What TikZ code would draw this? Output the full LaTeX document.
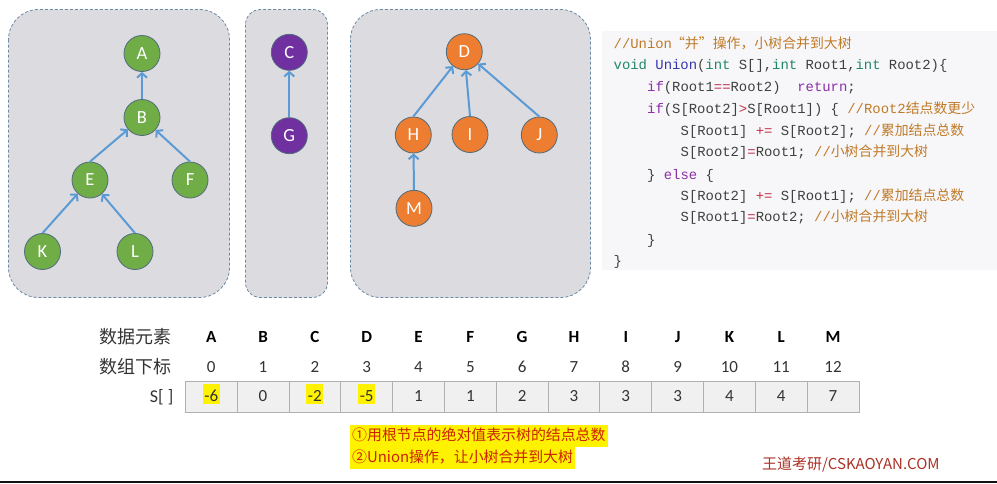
\documentclass[tikz,border=0pt]{standalone}
\usepackage{fontspec}
\setmainfont{Carlito}
\newfontfamily\cjk{Noto Sans CJK SC}
\newfontfamily\codefont{Liberation Mono}
\usetikzlibrary{arrows.meta}
\definecolor{ngreen}{HTML}{70AD47}
\definecolor{npurple}{HTML}{7030A0}
\definecolor{norange}{HTML}{ED7D31}
\definecolor{nborder}{HTML}{4F6B7C}
\definecolor{arrowblue}{HTML}{5B9BD5}
\definecolor{boxfill}{HTML}{DCDBDF}
\definecolor{boxborder}{HTML}{6A8AA6}
\definecolor{codebg}{HTML}{F7F7F9}
\definecolor{codetxt}{HTML}{404040}
\definecolor{ccomment}{HTML}{C07A28}
\definecolor{ctype}{HTML}{22876A}
\definecolor{cfunc}{HTML}{3535B0}
\definecolor{ckey}{HTML}{8A2FA6}
\definecolor{cop}{HTML}{C0304A}
\definecolor{cellfill}{HTML}{F0F0F0}
\definecolor{cellline}{HTML}{B0B0B0}
\definecolor{notered}{HTML}{CC2200}
\definecolor{wmred}{HTML}{A93226}
\definecolor{labelgray}{HTML}{333333}
\newcommand\cCm[1]{\textcolor{ccomment}{#1}}
\newcommand\cTy[1]{\textcolor{ctype}{#1}}
\newcommand\cFn[1]{\textcolor{cfunc}{#1}}
\newcommand\cKw[1]{\textcolor{ckey}{#1}}
\newcommand\cOp[1]{\textcolor{cop}{#1}}
\tikzset{
  treenode/.style={circle, minimum size=36pt, inner sep=0pt, draw=nborder, line width=0.8pt,
    text=white, font=\fontsize{18.5}{20}\selectfont},
  gnode/.style={treenode, fill=ngreen},
  pnode/.style={treenode, fill=npurple},
  onode/.style={treenode, fill=norange},
  edgearrow/.style={draw=arrowblue, line width=2pt, -{Straight Barb[length=4.5pt,width=10pt]}},
  groupbox/.style={draw=boxborder, dash pattern=on 3pt off 2pt, fill=boxfill, line width=0.8pt},
  codeline/.style={anchor=base west, inner sep=0pt, text=codetxt,
    font=\codefont\fontsize{13.9}{16}\selectfont},
  cellbox/.style={draw=cellline, fill=cellfill, line width=0.8pt, minimum width=51.82pt,
    minimum height=30.6pt, inner sep=0pt},
  headtxt/.style={anchor=base, inner sep=0pt, font=\bfseries\fontsize{17}{20}\selectfont},
  idxtxt/.style={anchor=base, inner sep=0pt, text=labelgray, font=\fontsize{17}{20}\selectfont},
  valtxt/.style={anchor=base, inner sep=0pt, text=labelgray, font=\fontsize{17}{20}\selectfont},
  valhl/.style={valtxt, fill=yellow, inner xsep=1.5pt, text height=17pt, text depth=3pt},
  rowlabel/.style={anchor=east, inner sep=0pt, text=labelgray, font=\cjk\fontsize{18}{20}\selectfont},
  noteline/.style={anchor=west, fill=yellow, inner xsep=2pt, inner ysep=0pt, text height=16pt,
    text depth=6pt, text=notered, font=\cjk\fontsize{14.9}{16}\selectfont},
}
\begin{document}
\begin{tikzpicture}[x=1pt,y=-1pt]
\useasboundingbox (0,0) rectangle (997,483);
% group boxes
\path[groupbox, rounded corners=30pt] (8.5,9.5) rectangle (229.5,297.5);
\path[groupbox, rounded corners=15pt] (245.5,9.5) rectangle (327.5,297.5);
\path[groupbox, rounded corners=30pt] (350.5,9.5) rectangle (590.5,297.5);
% tree 1
\node[gnode] (A) at (142,53.5) {A};
\node[gnode] (B) at (142,117.5) {B};
\node[gnode] (E) at (90,180) {E};
\node[gnode] (F) at (190,180) {F};
\node[gnode] (K) at (42.5,251.5) {K};
\node[gnode] (L) at (135,251.5) {L};
% tree 2
\node[pnode] (C) at (289.3,52.3) {C};
\node[pnode] (G) at (289.3,135.7) {G};
% tree 3
\node[onode] (D) at (464.3,51.7) {D};
\node[onode] (H) at (413.3,135) {H};
\node[onode] (I) at (470,134.5) {I};
\node[onode] (J) at (539.3,135) {J};
\node[onode] (M) at (414,208.3) {M};
% arrows child -> parent
\draw[edgearrow] (B.north) -- (A);
\draw[edgearrow] (E.north) -- (B);
\draw[edgearrow] (F.north) -- (B);
\draw[edgearrow] (K.north) -- (E);
\draw[edgearrow] (L.north) -- (E);
\draw[edgearrow] (G.north) -- (C);
\draw[edgearrow] (H.north) -- (D);
\draw[edgearrow] (I.north) -- (D);
\draw[edgearrow] (J.north) -- (D);
\draw[edgearrow] (M.north) -- (H);
% code box
\path[fill=codebg] (602,31) rectangle (997,270);
\node[codeline] (c1) at (613.5,48) {\cCm{//Union\hspace{-1pt}{\cjk “并”操作，小树合并到大树}}};
\node[codeline] (c2) at (613.5,69.3) {\cTy{void} \cFn{Union}(\cTy{int} S[],\cTy{int} Root1,\cTy{int} Root2)\{};
\node[codeline] (c3) at (647,91.7) {\cKw{if}(Root1\cOp{==}Root2)~~\cKw{return};};
\node[codeline] (c4) at (647,113.3) {\cKw{if}(S[Root2]\cOp{>}S[Root1])~\{~\cCm{//Root2{\cjk 结点数更少}}};
\node[codeline] (c5) at (680.5,135) {S[Root1]~\cOp{+=}~S[Root2];~\cCm{//{\cjk 累加结点总数}}};
\node[codeline] (c6) at (680.5,156.7) {S[Root2]\cOp{=}Root1;~\cCm{//{\cjk 小树合并到大树}}};
\node[codeline] (c7) at (647,179) {\}~\cKw{else}~\{};
\node[codeline] (c8) at (680.5,200.7) {S[Root2]~\cOp{+=}~S[Root1];~\cCm{//{\cjk 累加结点总数}}};
\node[codeline] (c9) at (680.5,221.7) {S[Root1]\cOp{=}Root2;~\cCm{//{\cjk 小树合并到大树}}};
\node[codeline] (c10) at (647,244.3) {\}};
\node[codeline] (c11) at (613.5,265) {\}};
% table
\node[rowlabel] (lab1) at (172,336.7) {数据元素};
\node[rowlabel] (lab2) at (172,366.7) {数组下标};
\node[anchor=base east, inner sep=0pt, text=labelgray, font=\fontsize{18}{20}\selectfont] (lab3) at (173.5,402) {S[ ]};
\foreach \L [count=\i from 0] in {A,B,C,D,E,F,G,H,I,J,K,L,M} {
  \node[cellbox] (cell\i) at ({185.3+51.82*(\i+0.5)},397) {};
  \node[headtxt] (head\i) at ({185.3+51.82*(\i+0.5)},342) {\L};
  \node[idxtxt] (idx\i) at ({185.3+51.82*(\i+0.5)},372.5) {\i};
}
\foreach \i/\v in {0/-6,2/-2,3/-5} {
  \node[valhl] (val\i) at ({185.3+51.82*(\i+0.5)},401) {\v};
}
\foreach \i/\v in {1/0,4/1,5/1,6/2,7/3,8/3,9/3,10/4,11/4,12/7} {
  \node[valtxt] (val\i) at ({185.3+51.82*(\i+0.5)},401) {\v};
}
% notes
\node[noteline] (note1) at (350,435.5) {①用根节点的绝对值表示树的结点总数};
\node[noteline] (note2) at (350,457.7) {②Union操作，让小树合并到大树};
% watermark
\node[anchor=west, inner sep=0pt, text=wmred, font=\cjk\fontsize{15}{16}\selectfont] (wm) at (762,465) {王道考研/CSKAOYAN.COM};
% bottom bar
\path[fill=black!93] (0,480.5) rectangle (997,483);
\end{tikzpicture}
\end{document}
